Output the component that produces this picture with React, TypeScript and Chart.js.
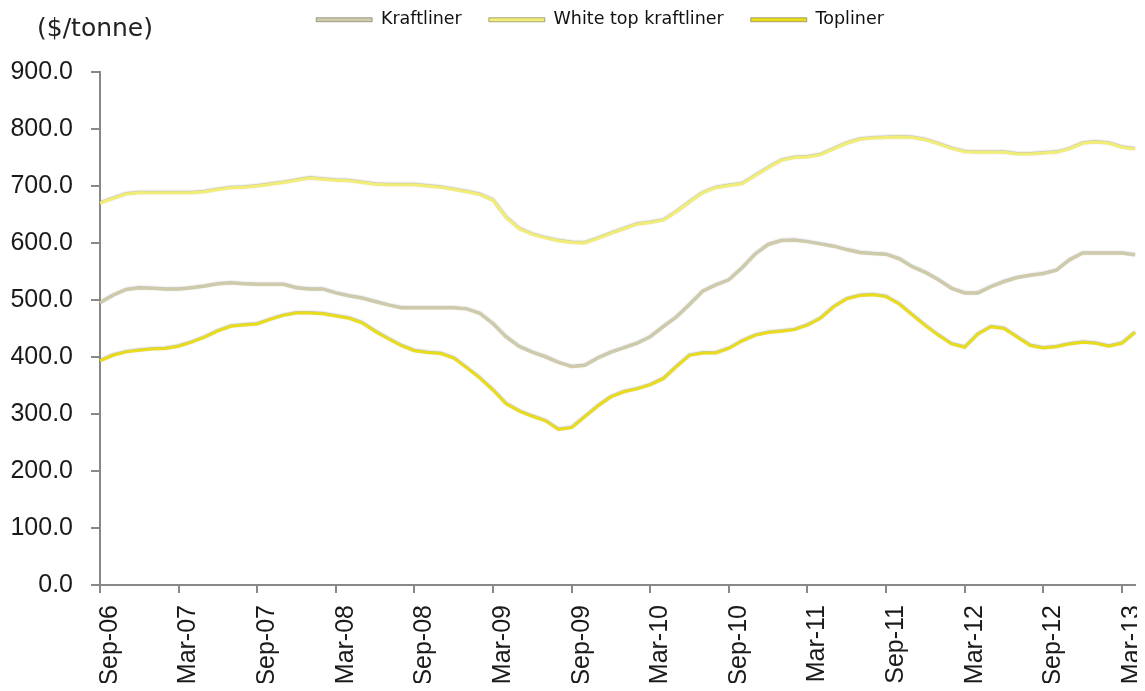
import { useEffect, useRef } from "react";
import { Chart, registerables } from "chart.js";

Chart.register(...registerables);

const months = [
  "Sep-06", "Oct-06", "Nov-06", "Dec-06", "Jan-07", "Feb-07", "Mar-07", "Apr-07", "May-07", "Jun-07",
  "Jul-07", "Aug-07", "Sep-07", "Oct-07", "Nov-07", "Dec-07", "Jan-08", "Feb-08", "Mar-08", "Apr-08",
  "May-08", "Jun-08", "Jul-08", "Aug-08", "Sep-08", "Oct-08", "Nov-08", "Dec-08", "Jan-09", "Feb-09",
  "Mar-09", "Apr-09", "May-09", "Jun-09", "Jul-09", "Aug-09", "Sep-09", "Oct-09", "Nov-09", "Dec-09",
  "Jan-10", "Feb-10", "Mar-10", "Apr-10", "May-10", "Jun-10", "Jul-10", "Aug-10", "Sep-10", "Oct-10",
  "Nov-10", "Dec-10", "Jan-11", "Feb-11", "Mar-11", "Apr-11", "May-11", "Jun-11", "Jul-11", "Aug-11",
  "Sep-11", "Oct-11", "Nov-11", "Dec-11", "Jan-12", "Feb-12", "Mar-12", "Apr-12", "May-12", "Jun-12",
  "Jul-12", "Aug-12", "Sep-12", "Oct-12", "Nov-12", "Dec-12", "Jan-13", "Feb-13", "Mar-13", "Apr-13",
];

const tickLabels = [
  "Sep-06", "Mar-07", "Sep-07", "Mar-08", "Sep-08", "Mar-09", "Sep-09",
  "Mar-10", "Sep-10", "Mar-11", "Sep-11", "Mar-12", "Sep-12", "Mar-13",
];

const kraftliner = [
  495, 508, 518, 521, 520, 519, 519, 521, 524, 528,
  530, 528, 527, 527, 527, 521, 519, 519, 512, 507,
  503, 497, 491, 486, 486, 486, 486, 486, 484, 476,
  458, 435, 418, 408, 400, 390, 383, 385, 398, 408,
  416, 424, 435, 453, 470, 492, 515, 526, 535, 556,
  580, 597, 604, 605, 602, 598, 594, 588, 583, 581,
  580, 572, 558, 548, 535, 520, 512, 512, 523, 532,
  539, 543, 546, 552, 570, 582, 582, 582, 582, 579,
];

const whiteTopKraftliner = [
  670, 678, 686, 688, 688, 688, 688, 688, 690, 694,
  697, 698, 700, 703, 706, 710, 714, 712, 710, 709,
  706, 703, 702, 702, 702, 700, 698, 694, 690, 685,
  675, 645, 625, 615, 609, 604, 601, 600, 608, 617,
  625, 633, 636, 640, 655, 672, 688, 697, 701, 704,
  718, 732, 745, 750, 751, 755, 765, 775, 782, 784,
  785, 786, 785, 781, 774, 766, 760, 759, 759, 759,
  756, 756, 758, 759, 765, 775, 777, 775, 768, 765,
];

const topliner = [
  393, 403, 409, 412, 414, 415, 419, 426, 435, 446,
  454, 456, 458, 466, 473, 477, 477, 476, 472, 468,
  460, 445, 432, 420, 411, 408, 406, 398, 381, 363,
  342, 318, 305, 296, 288, 273, 276, 295, 314, 330,
  339, 344, 351, 362, 383, 403, 407, 407, 415, 428,
  438, 443, 445, 448, 456, 468, 488, 502, 508, 509,
  506, 493, 474, 455, 438, 423, 417, 440, 453, 450,
  435, 420, 416, 418, 423, 426, 424, 419, 424, 443,
];

const seriesNames = ["Kraftliner", "White top kraftliner", "Topliner"];
const seriesColors = ["#cfcbaa", "#f2ed74", "#e8dc1c"];
const unitLabel = "($/tonne)";

const unitTitlePlugin = {
  id: "unitTitle",
  afterDraw(chart: any) {
    const { ctx, chartArea } = chart;
    ctx.save();
    ctx.font = '25px "DejaVu Sans"';
    ctx.fillStyle = "#222";
    ctx.textAlign = "left";
    ctx.textBaseline = "middle";
    ctx.fillText(unitLabel, chartArea.left - 63, 21);
    ctx.restore();
  },
};

// places the legend row at the top, centred a little right of the canvas centre
const legendPlacePlugin = {
  id: "legendPlace",
  afterLayout(chart: any) {
    const lg = chart.legend;
    if (!lg) return;
    lg.left = 55;
    lg.top = -24;
  },
};

const lineShadePlugin = {
  id: "lineShade",
  beforeDatasetDraw(chart: any) {
    const ctx = chart.ctx;
    ctx.save();
    ctx.shadowColor = "rgba(90,90,70,0.45)";
    ctx.shadowBlur = 1.5;
    ctx.shadowOffsetY = -0.5;
  },
  afterDatasetDraw(chart: any) {
    chart.ctx.restore();
  },
};

export default function App() {
  const canvasRef = useRef<HTMLCanvasElement | null>(null);

  useEffect(() => {
    if (!canvasRef.current) return;
    const series = [kraftliner, whiteTopKraftliner, topliner];
    const tickFont = { family: '"Liberation Sans", Arial, sans-serif', size: 25 };
    const showTick = (i: number) => tickLabels.includes(months[i]);

    const chart = new Chart(canvasRef.current, {
      type: "line",
      data: {
        labels: months,
        datasets: series.map((d, i) => ({
          label: seriesNames[i],
          data: d,
          borderColor: seriesColors[i],
          backgroundColor: seriesColors[i],
          borderWidth: 3,
          pointRadius: 0,
          tension: 0,
          fill: false,
        })),
      },
      options: {
        animation: false,
        responsive: false,
        layout: { padding: 0 },
        plugins: {
          tooltip: { enabled: false },
          legend: {
            position: "top",
            align: "center",
            labels: {
              boxWidth: 56,
              boxHeight: 4,
              padding: 27,
              color: "#111",
              font: { family: '"DejaVu Sans", sans-serif', size: 17.5 },
              generateLabels: (c: any) =>
                Chart.defaults.plugins.legend.labels
                  .generateLabels(c)
                  .map((l: any) => ({ ...l, lineWidth: 1, strokeStyle: "rgba(110,110,90,0.6)" })),
            },
          },
        },
        scales: {
          x: {
            type: "category",
            offset: false,
            border: { display: true, color: "#888", width: 2 },
            grid: {
              drawOnChartArea: false,
              drawTicks: true,
              tickLength: 8,
              lineWidth: 2,
              color: (ctx: any) => (showTick(ctx.index) ? "#888" : "rgba(0,0,0,0)"),
            },
            ticks: {
              autoSkip: false,
              minRotation: 90,
              maxRotation: 90,
              padding: 12,
              labelOffset: 10,
              color: "#1a1a1a",
              font: tickFont,
              callback: (_v: any, i: number) => (showTick(i) ? months[i] : ""),
            },
            afterFit: (scale: any) => {
              scale.height = 98;
              scale.paddingLeft = 0;
              scale.paddingRight = 2;
            },
          },
          y: {
            min: 0,
            max: 900,
            border: { display: true, color: "#888", width: 2 },
            grid: {
              drawOnChartArea: false,
              drawTicks: true,
              tickLength: 9,
              lineWidth: 2,
              color: "#888",
            },
            ticks: {
              stepSize: 100,
              padding: 18,
              color: "#1a1a1a",
              font: tickFont,
              callback: (v: any) => Number(v).toFixed(1),
            },
            afterFit: (scale: any) => {
              scale.width = 92;
              scale.paddingTop = 64;
            },
          },
        },
      },
      plugins: [unitTitlePlugin, legendPlacePlugin, lineShadePlugin],
    });

    return () => chart.destroy();
  }, []);

  return (
    <div style={{ width: 1129, height: 675 }}>
      <canvas ref={canvasRef} width={1129} height={675} style={{ display: "block" }} />
    </div>
  );
}
